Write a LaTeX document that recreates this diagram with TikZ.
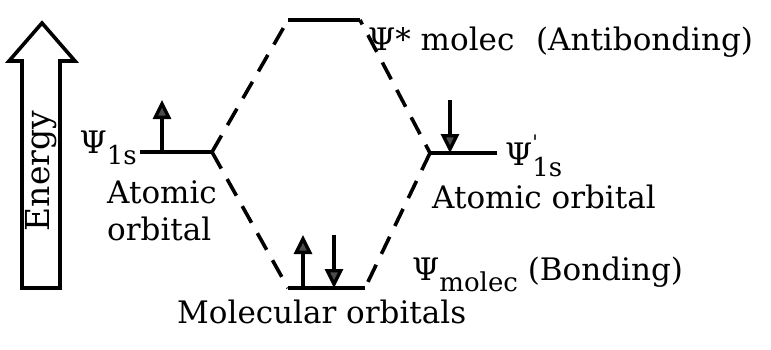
\documentclass[tikz,border=0pt]{standalone}
\usepackage{fontspec}
\setmainfont{DejaVu Serif}
\usetikzlibrary{arrows.meta}
\newcommand{\lsub}[1]{\raisebox{-0.36em}{\fontsize{26}{26}\selectfont #1}}
\begin{document}
\begin{tikzpicture}[x=1pt,y=-1pt,
  level/.style={line width=4pt},
  link/.style={line width=3.6pt, dash pattern=on 19pt off 12pt},
  spin/.style={line width=3.4pt, -{Triangle[length=19pt,width=18pt,fill=black!70]}},
  lbl/.style={inner sep=0pt, font=\fontsize{31}{37}\selectfont},
  bigarrow/.style={line width=3.6pt, line join=miter}
]
\useasboundingbox (0,0) rectangle (771,349);
% energy arrow
\coordinate (e1) at (22,288); \coordinate (e2) at (22,61); \coordinate (e3) at (9,61);
\coordinate (e4) at (42,23); \coordinate (e5) at (75,61); \coordinate (e6) at (60,61);
\coordinate (e7) at (60,288);
\draw[bigarrow] (e1) -- (e2) -- (e3) -- (e4) -- (e5) -- (e6) -- (e7) -- cycle;
\node[lbl, rotate=90, font=\fontsize{33}{37}\selectfont] (en) at (41,171) {Energy};
% levels
\coordinate (L1) at (140,152); \coordinate (L2) at (212,152);
\coordinate (T1) at (288,20);  \coordinate (T2) at (360,20);
\coordinate (R1) at (430,153); \coordinate (R2) at (497,153);
\coordinate (B1) at (288,288); \coordinate (B2) at (365,288);
\draw[level] (L1) -- (L2);
\draw[level] (T1) -- (T2);
\draw[level] (R1) -- (R2);
\draw[level] (B1) -- (B2);
% correlation lines
\draw[link] (L2) -- (T1);
\draw[link] (L2) -- (B1);
\draw[link, dash phase=14pt] (T2) -- (R1);
\draw[link] (R1) -- (B2);
% spins
\coordinate (sL0) at (162,152); \coordinate (sL1) at (162,100);
\coordinate (sR0) at (450,100); \coordinate (sR1) at (450,153);
\coordinate (sB0) at (303,288); \coordinate (sB1) at (303,235);
\coordinate (sC0) at (334,235); \coordinate (sC1) at (334,288);
\draw[spin] (sL0) -- (sL1);
\draw[spin] (sR0) -- (sR1);
\draw[spin] (sB0) -- (sB1);
\draw[spin] (sC0) -- (sC1);
% labels
\node[lbl, anchor=base east] (psiL) at (137,153) {Ψ\lsub{1s}};
\node[lbl, anchor=base west] (atL1) at (107,203) {Atomic};
\node[lbl, anchor=base west] (atL2) at (107,240) {orbital};
\node[lbl, anchor=base west] (psiT) at (368,50) {Ψ* molec\hspace{0.7em}(Antibonding)};
\node[lbl, anchor=base west] (psiR) at (505,165) {Ψ\rlap{\raisebox{.5em}{\fontsize{20}{20}\selectfont\textquotesingle}}\lsub{1s}};
\node[lbl, anchor=base west] (atR) at (432,208) {Atomic orbital};
\node[lbl, anchor=base west] (psiB) at (412,280) {Ψ\lsub{molec} (Bonding)};
\node[lbl, anchor=base west] (molB) at (177,323) {Molecular orbitals};
\end{tikzpicture}
\end{document}
